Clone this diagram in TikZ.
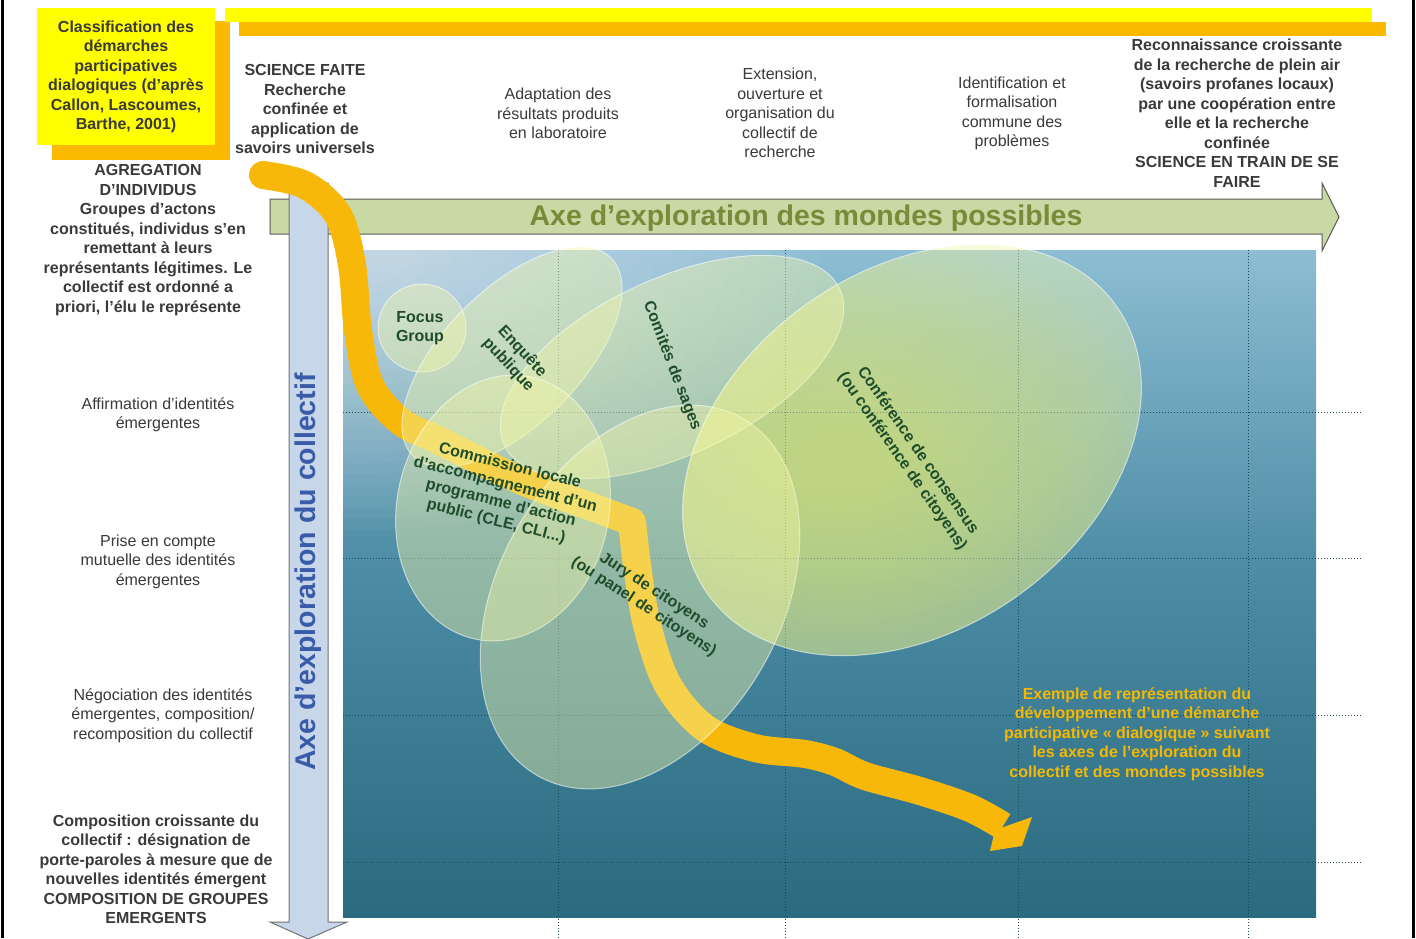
\documentclass[tikz,border=0pt]{standalone}
\usepackage{fontspec}
\setmainfont{Liberation Sans}
\definecolor{boxyellow}{HTML}{FFFF00}
\definecolor{shadoworange}{HTML}{FBB900}
\definecolor{txtgray}{HTML}{3A3A3A}
\definecolor{axgreen}{HTML}{C9D9A6}
\definecolor{axgreentxt}{HTML}{7A8A38}
\definecolor{axblue}{HTML}{C8D6EA}
\definecolor{axbluetxt}{HTML}{3A5CA8}
\definecolor{paneltop}{HTML}{8CBDD3}
\definecolor{panelmid}{HTML}{4A8AA3}
\definecolor{panelbot}{HTML}{2A6B80}
\definecolor{bandorange}{HTML}{F8B80A}
\definecolor{ellfill}{HTML}{F4F7A8}
\definecolor{labgreen}{HTML}{1F4D2B}
\definecolor{extxt}{HTML}{F5B800}
\definecolor{gridcol}{HTML}{1E4656}
\definecolor{glow}{HTML}{C4DC48}
\tikzset{
  lbl/.style={inner sep=0pt, align=center, text=txtgray, font=\fontsize{16}{19.5}\selectfont},
  blbl/.style={lbl, font=\fontsize{16}{19.5}\selectfont\bfseries},
  inlbl/.style={inner sep=0pt, align=center, text=labgreen, font=\fontsize{16}{19}\selectfont\bfseries},
  axlbl/.style={inner sep=0pt, font=\fontsize{28.5}{32}\selectfont\bfseries},
  gridline/.style={gridcol, dotted, line width=1pt},
  zone/.style={fill=ellfill, fill opacity=0.42, draw=white, draw opacity=0.55, line width=1pt},
}
\begin{document}
\begin{tikzpicture}[x=1pt,y=-1pt]
\useasboundingbox (0,0) rectangle (1416,938);
\fill[white] (0,0) rectangle (1416,938);
% frame lines
\draw[black, line width=3pt] (2,0) -- (2,938);
\draw[black, line width=3pt] (1413,0) -- (1413,938);

% title box and top bar
\fill[shadoworange] (52,21) rectangle (230,160);
\fill[boxyellow] (37,8) rectangle (215,145);
\fill[shadoworange] (239,22) rectangle (1386,36);
\fill[boxyellow] (225,8) rectangle (1372,22);
\node[blbl] (cls) at (126,77) {Classification des\\démarches\\participatives\\dialogiques (d'après\\Callon, Lascoumes,\\Barthe, 2001)};

% column headers
\node[blbl] (hSF) at (305,109) {SCIENCE FAITE\\Recherche\\confinée et\\application de\\savoirs universels};
\node[lbl] (hAd) at (558,113.5) {Adaptation des\\résultats produits\\en laboratoire};
\node[lbl] (hEx) at (780,113) {Extension,\\ouverture et\\organisation du\\collectif de\\recherche};
\node[lbl] (hId) at (1012,113.5) {Identification et\\formalisation\\commune des\\problèmes};
\node[blbl] (hRe) at (1237,113) {Reconnaissance croissante\\de la recherche de plein air\\(savoirs profanes locaux)\\par une coopération entre\\elle et la recherche\\confinée\\SCIENCE EN TRAIN DE SE\\FAIRE};

% row labels
\node[blbl] (lAg) at (148,240) {AGREGATION\\D'INDIVIDUS\\Groupes d'actons\\constitués, individus s'en\\remettant à leurs\\représentants légitimes. Le\\collectif est ordonné a\\priori, l'élu le représente};
\node[lbl] (lAf) at (158,415) {Affirmation d'identités\\émergentes};
\node[lbl] (lPr) at (158,561.5) {Prise en compte\\mutuelle des identités\\émergentes};
\node[lbl] (lNe) at (163,715.5) {Négociation des identités\\émergentes, composition/\\recomposition du collectif};
\node[blbl] (lCo) at (156,869.5) {Composition croissante du\\collectif : désignation de\\porte-paroles à mesure que de\\nouvelles identités émergent\\COMPOSITION DE GROUPES\\EMERGENTS};

% main panel
\shade[top color=paneltop, bottom color=panelbot, middle color=panelmid] (343,250) rectangle (1316,917);
\begin{scope}
\clip (343,250) rectangle (1316,917);
\foreach \r in {1,0.96,...,0.1} {
  \fill[white, opacity=0.03] (360,250) ellipse [x radius=460*\r, y radius=280*\r];
}
\begin{scope}
\clip[rotate around={35:(912,450)}] (912,450) ellipse [x radius=250, y radius=180];
\foreach \r in {1,0.96,...,0.1} {
  \fill[glow, opacity=0.045] (840,470) ellipse [x radius=330*\r, y radius=240*\r];
}
\end{scope}
\end{scope}

% grid
\foreach \gx in {558,785,1018,1248} { \draw[gridline] (\gx,250) -- (\gx,938); }
\foreach \gy in {412,558,715,862} { \draw[gridline] (343,\gy) -- (1362,\gy); }

% horizontal axis arrow
\draw[fill=axgreen, draw=black!65, line width=1pt] (270,199) -- (1322,199) -- (1322,183) -- (1339,217) -- (1322,251) -- (1322,234) -- (270,234) -- cycle;
\node[axlbl, text=axgreentxt] (axH) at (806,218) {Axe d'exploration des mondes possibles};

% vertical axis arrow
\draw[fill=axblue, draw=black!55, line width=1pt] (289,183) -- (328,183) -- (328,922) -- (347,922) -- (308,939) -- (270,922) -- (289,922) -- cycle;
\node[axlbl, text=axbluetxt, rotate=90] (axV) at (308,572) {Axe d'exploration du collectif};

% orange development band
\coordinate (bandstart) at (263,175);
\coordinate (bandend) at (1003,826);
\draw[bandorange, line width=28pt, line cap=round, line join=round]
  plot[smooth, tension=0.55] coordinates {(263,175) (305,185) (338,215) (352,265) (358,330) (370,385) (400,421) (440,441) (520,480) (600,510) (632,522)};
\draw[bandorange, line width=28pt, line join=round]
  plot[smooth, tension=0.55] coordinates {(632,522) (637,565) (647,625) (668,685) (705,728) (755,748) (805,754) (835,762) (865,776) (920,791) (970,808) (1003,826)};
\fill[bandorange] (1032,817) -- (1022,846) -- (990,851) -- (995,830) -- cycle;

% participation zones
\path[zone] (422,328) circle [radius=44];
\path[zone, rotate around={45:(512,357)}] (512,357) ellipse [x radius=140, y radius=68];
\path[zone, rotate around={25:(672,367)}] (672,367) ellipse [x radius=185, y radius=88];
\path[zone, rotate around={-12:(503,508)}] (503,508) ellipse [x radius=106, y radius=134];
\path[zone, rotate around={60:(640,597)}] (640,597) ellipse [x radius=206, y radius=141];
\path[zone, rotate around={35:(912,450)}] (912,450) ellipse [x radius=250, y radius=180];

% zone labels
\node[inlbl] (focus) at (420,328) {Focus\\Group};
\node[inlbl, rotate=-47] (enq) at (515,358) {Enquête\\publique};
\node[inlbl, rotate=-69] (com) at (672,366) {Comités de sages};
\node[inlbl, rotate=-55] (cons) at (910,456) {Conférence de consensus\\(ou conférence de citoyens)};
\node[inlbl, rotate=-14] (cle) at (503,494) {Commission locale\\d'accompagnement d'un\\programme d'action\\public (CLE, CLI...)};
\node[inlbl, rotate=-33] (jury) at (649,599) {Jury de citoyens\\(ou panel de citoyens)};

% example text
\node[inner sep=0pt, align=center, text=extxt, font=\fontsize{16}{19.5}\selectfont\bfseries] (ex) at (1137,734) {Exemple de représentation du\\développement d'une démarche\\participative « dialogique » suivant\\les axes de l'exploration du\\collectif et des mondes possibles};
\end{tikzpicture}
\end{document}
